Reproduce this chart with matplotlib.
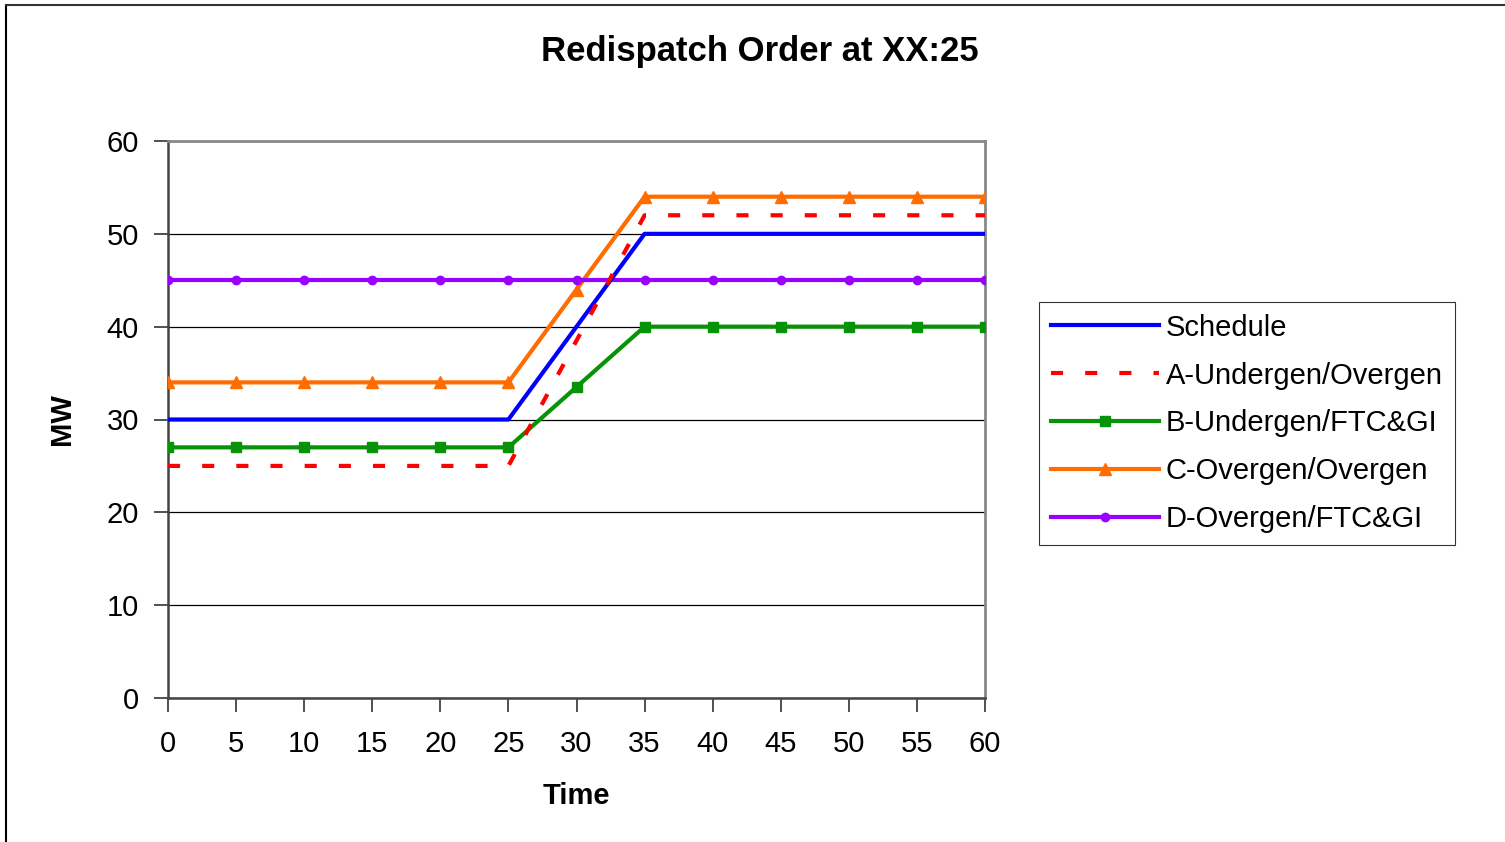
import numpy as np
import matplotlib.pyplot as plt
from matplotlib.lines import Line2D

# time axis (minutes)
time = [0, 5, 10, 15, 20, 25, 30, 35, 40, 45, 50, 55, 60]

schedule = [30, 30, 30, 30, 30, 30, 40, 50, 50, 50, 50, 50, 50]
a_under_over = [25, 25, 25, 25, 25, 25, 38.5, 52, 52, 52, 52, 52, 52]
b_under_ftc = [27, 27, 27, 27, 27, 27, 33.5, 40, 40, 40, 40, 40, 40]
c_over_over = [34, 34, 34, 34, 34, 34, 44, 54, 54, 54, 54, 54, 54]
d_over_ftc = [45, 45, 45, 45, 45, 45, 45, 45, 45, 45, 45, 45, 45]

labels = ["Schedule", "A-Undergen/Overgen", "B-Undergen/FTC&GI",
          "C-Overgen/Overgen", "D-Overgen/FTC&GI"]
yticks = [0, 10, 20, 30, 40, 50, 60]

plt.rcParams['font.family'] = ['Liberation Sans', 'DejaVu Sans']

fig = plt.figure(figsize=(15.05, 8.42), dpi=100)
ax = fig.add_axes([168 / 1505, 1 - 698 / 842, (985 - 168) / 1505, (698 - 141) / 842])

lw = 3
ax.plot(time, schedule, color='#0000ff', lw=lw, label=labels[0], zorder=4)
ax.plot(time, a_under_over, color='#ff0000', lw=lw, ls=(0, (2.9, 5.3)),
        label=labels[1], zorder=5)
ax.plot(time, b_under_ftc, color='#079307', lw=lw, marker='s', ms=7,
        label=labels[2], zorder=3)
ax.plot(time, c_over_over, color='#ff6d00', lw=lw, marker='^', ms=9,
        label=labels[3], zorder=3)
ax.plot(time, d_over_ftc, color='#9a00ff', lw=lw, marker='o', ms=6,
        label=labels[4], zorder=3)

ax.set_xlim(0, 60)
ax.set_ylim(0, 60)
ax.set_xticks(time)
ax.set_yticks(yticks)
ax.yaxis.grid(True, color='black', lw=0.9)
ax.set_axisbelow(True)
ax.tick_params(labelsize=21, length=10, width=1.2, color='#333333', direction='out')
ax.tick_params(axis='x', pad=13)
ax.tick_params(axis='y', pad=11)

for s in ['left', 'bottom']:
    ax.spines[s].set_color('#444444')
    ax.spines[s].set_linewidth(1.8)
for s in ['top', 'right']:
    ax.spines[s].set_color('#888888')
    ax.spines[s].set_linewidth(2)

ax.set_xlabel("Time", fontsize=21, fontweight='bold', labelpad=17)
ax.set_ylabel("MW", fontsize=21, fontweight='bold', labelpad=22)

fig.text(760 / 1505, 1 - 51 / 842, "Redispatch Order at XX:25", fontsize=25,
         fontweight='bold', ha='center', va='center')

leg = ax.legend(loc='upper left', bbox_to_anchor=(1039 / 1505, 1 - 302 / 842),
                bbox_transform=fig.transFigure, fontsize=21, frameon=True,
                fancybox=False, edgecolor='black', handlelength=3.7,
                labelspacing=0.68, borderpad=0.4, handletextpad=0.25,
                markerfirst=True, numpoints=1, borderaxespad=0)
leg.get_frame().set_linewidth(0.8)

# outer chart border (left and top only visible)
fig.add_artist(Line2D([6 / 1505, 6 / 1505], [0, 1 - 5 / 842], color='black', lw=1.5,
                      transform=fig.transFigure))
fig.add_artist(Line2D([6 / 1505, 1], [1 - 5 / 842, 1 - 5 / 842], color='#333333', lw=1.5,
                      transform=fig.transFigure))

fig.savefig("out.png", dpi=100)
